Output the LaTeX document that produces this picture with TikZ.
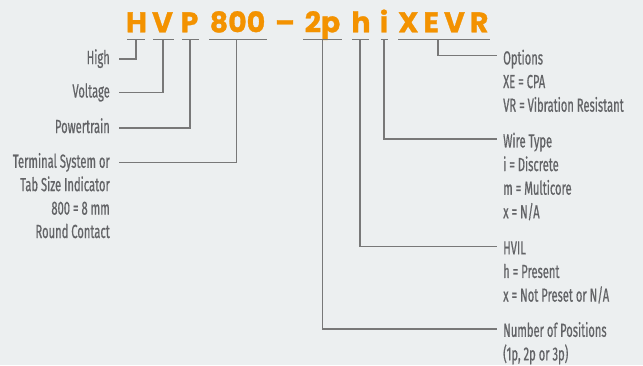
\documentclass[tikz,border=0pt]{standalone}
\usepackage{fontspec}
\setmainfont{Fira Sans}[FakeStretch=0.59, FakeBold=0.6]
\newfontfamily\titlefont{Poppins}
\definecolor{bg}{RGB}{236,239,240}
\definecolor{org}{RGB}{243,146,0}
\definecolor{txt}{RGB}{98,99,102}
\definecolor{ln}{RGB}{120,120,120}
\begin{document}
\begin{tikzpicture}[x=1bp,y=-1bp,
  ttl/.style={font=\titlefont\bfseries\addfontfeature{FakeBold=1}\fontsize{28.5}{30}\selectfont, text=org, inner sep=0, anchor=base},
  lft/.style={font=\fontsize{19}{23.5}\selectfont, text=txt, inner sep=0, anchor=base east, align=right},
  rgt/.style={font=\fontsize{19}{23.7}\selectfont, text=txt, inner sep=0, anchor=base west, align=left},
  conn/.style={draw=ln, line width=1.2bp}]
\fill[bg] (0,0) rectangle (643,365);
\useasboundingbox (0,0) rectangle (643,365);
% title
\node[ttl] (tH) at (136.5,32.3) {H};
\node[ttl] (tV) at (162.5,32.3) {V};
\node[ttl] (tP) at (189.5,32.3) {P};
\node[ttl] (t800) at (237.5,32.3) {800};
\node[ttl] (tdash) at (285,32.3) {–};
\node[ttl] (t2p) at (322.5,32.3) {2p};
\node[ttl] (th) at (361,32.3) {h};
\node[ttl] (ti) at (384,32.3) {i};
\node[ttl, font=\titlefont\bfseries\addfontfeature{FakeBold=1,LetterSpace=18}\fontsize{28.5}{30}\selectfont, anchor=base west] (tX) at (398,32.3) {XEVR};
% underline coordinates
\coordinate (uH1) at (127,39.5); \coordinate (uH2) at (145,39.5);
\coordinate (uV1) at (153,39.5); \coordinate (uV2) at (174,39.5);
\coordinate (uP1) at (182,39.5); \coordinate (uP2) at (199,39.5);
\coordinate (u81) at (209,39.5); \coordinate (u82) at (267,39.5);
\coordinate (u21) at (303,39.5); \coordinate (u22) at (342,39.5);
\coordinate (uh1) at (352,39.5); \coordinate (uh2) at (369,39.5);
\coordinate (ui1) at (380.5,39.5); \coordinate (ui2) at (388,39.5);
\coordinate (uX1) at (398,39.5); \coordinate (uX2) at (490,39.5);
\foreach \a in {H,V,P,8,2,h,i,X} {\draw[conn] (u\a1) -- (u\a2);}
% tick points
\coordinate (kH) at (136,39.5);
\coordinate (kV) at (163,39.5);
\coordinate (kP) at (190,39.5);
\coordinate (k8) at (236.5,39.5);
\coordinate (k2) at (322.5,39.5);
\coordinate (kh) at (360,39.5);
\coordinate (ki) at (384,39.5);
\coordinate (kX) at (438,39.5);
% left labels (anchor = baseline of last line)
\node[lft] (high) at (110,64) {High};
\node[lft] (volt) at (110,97.5) {Voltage};
\node[lft] (power) at (110,133) {Powertrain};
\node[lft] (term) at (110,238) {Terminal System or\\Tab Size Indicator\\800 = 8 mm\\Round Contact};
\coordinate (eH) at (119,59);
\coordinate (eV) at (119,92.7);
\coordinate (eP) at (119,128);
\coordinate (e8) at (119,162.7);
% right labels (anchor = baseline of last line)
\node[rgt] (opt) at (503,111.7) {Options\\XE = CPA\\VR = Vibration Resistant};
\node[rgt] (wire) at (503,218.3) {Wire Type\\i = Discrete\\m = Multicore\\x = N/A};
\node[rgt] (hvil) at (503,301.6) {HVIL\\h = Present\\x = Not Preset or N/A};
\node[rgt] (num) at (503,360.4) {Number of Positions\\(1p, 2p or 3p)};
\coordinate (eX) at (497,55.7);
\coordinate (ei) at (497,139);
\coordinate (eh) at (497,246.7);
\coordinate (e2) at (497,329);
% connectors
\foreach \a in {H,V,P,8,X,i,h,2} {\draw[conn] (k\a) |- (e\a);}
\end{tikzpicture}
\end{document}
